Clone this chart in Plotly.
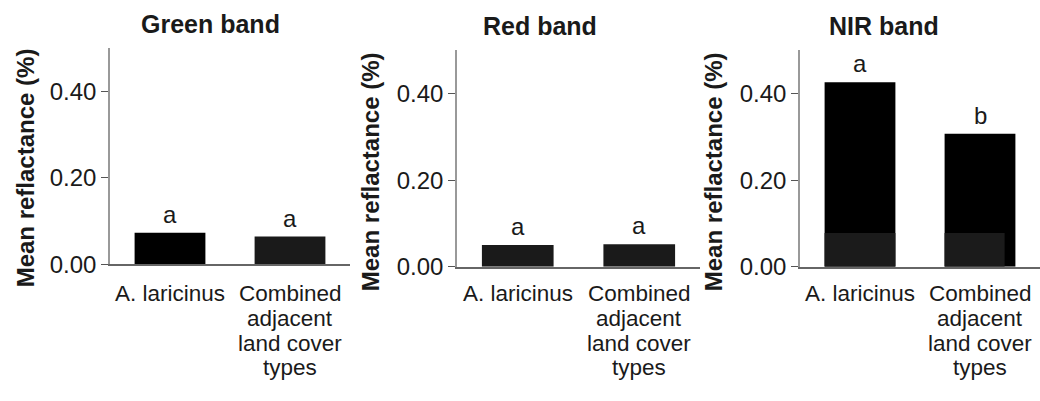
import plotly.graph_objects as go

# ---- data ----
categories = ["A. laricinus", "Combined adjacent land cover types"]
category_lines = [["A. laricinus"], ["Combined", "adjacent", "land cover", "types"]]
panel_titles = ["Green band", "Red band", "NIR band"]
green_values = [0.073, 0.064]
red_values = [0.050, 0.052]
nir_values = [0.426, 0.307]
nir_base_values = [0.078, 0.078]
green_letters = ["a", "a"]
red_letters = ["a", "a"]
nir_letters = ["a", "b"]
y_tickvals = [0.0, 0.2, 0.4]
y_ticktext = ["0.00", "0.20", "0.40"]
y_title = "Mean reflactance (%)"

W, H = 1040, 401
FONT = "Liberation Sans, Arial, sans-serif"
TXT = "#1a1a1a"

# panel geometry (pixels): x0, x1, ytop, ybottom
panels = [
    (110, 350, 50, 273),
    (457, 700, 52, 275.7),
    (800, 1040, 52, 275.7),
]
title_pos = [(210, 25), (540, 27), (884, 27)]
ytitle_pos = [(25, 174), (370, 178), (713, 178)]
label_line_y = [303.5, 328.8, 354.6, 379.9]

series = [green_values, red_values, nir_values]
letters = [green_letters, red_letters, nir_letters]
bar_colors = [["#000000", "#1a1a1a"], ["#1a1a1a", "#1a1a1a"], ["#000000", "#000000"]]

fig = go.Figure()
layout = dict(
    width=W, height=H,
    margin=dict(l=0, r=0, t=0, b=0),
    paper_bgcolor="white", plot_bgcolor="white",
    showlegend=False, barmode="overlay",
    font=dict(family=FONT, size=24, color=TXT),
)
annotations = []

for i, (x0, x1, yt, yb) in enumerate(panels):
    sfx = "" if i == 0 else str(i + 1)
    xa, ya = "x" + sfx, "y" + sfx
    fig.add_trace(go.Bar(
        x=categories, y=series[i], xaxis=xa, yaxis=ya,
        width=0.59, marker=dict(color=bar_colors[i], line=dict(width=0)),
        hoverinfo="skip",
    ))
    if i == 2:
        fig.add_trace(go.Bar(
            x=categories, y=nir_base_values, xaxis=xa, yaxis=ya,
            width=[0.59, 0.50], offset=[-0.295, -0.295],
            marker=dict(color="#1b1b1b", line=dict(width=0)),
            hoverinfo="skip",
        ))
    layout["xaxis" + sfx] = dict(
        domain=[x0 / W, x1 / W], anchor=ya, type="category",
        range=[-0.5, 1.5], showline=True, linecolor="#666666", linewidth=2,
        ticks="", showticklabels=False, showgrid=False, zeroline=False,
        fixedrange=True,
    )
    layout["yaxis" + sfx] = dict(
        domain=[1 - yb / H, 1 - yt / H], anchor=xa,
        range=[0, 0.5], tickvals=y_tickvals, ticktext=y_ticktext,
        ticks="outside", ticklen=7, tickcolor="#555555", tickwidth=1,
        showline=True, linecolor="#999999", linewidth=1.5,
        showgrid=False, zeroline=False,
        tickfont=dict(family=FONT, size=24, color=TXT),
        fixedrange=True,
    )
    # panel title
    tx, ty = title_pos[i]
    annotations.append(dict(
        x=tx / W, y=1 - ty / H, xref="paper", yref="paper",
        text="<b>%s</b>" % panel_titles[i], showarrow=False,
        xanchor="center", yanchor="middle",
        font=dict(family=FONT, size=25, color=TXT),
    ))
    # y title
    yx, yy = ytitle_pos[i]
    annotations.append(dict(
        x=yx / W, y=1 - yy / H, xref="paper", yref="paper",
        text="<b>%s</b>" % y_title, showarrow=False, textangle=-90,
        xanchor="center", yanchor="middle",
        font=dict(family=FONT, size=24, color=TXT),
    ))
    # significance letters
    for cat, v, lt in zip(categories, series[i], letters[i]):
        annotations.append(dict(
            x=cat, y=v, xref=xa, yref=ya, text=lt, showarrow=False,
            xanchor="center", yanchor="bottom", yshift=4, borderpad=0,
            font=dict(family=FONT, size=24, color=TXT),
        ))
    # category labels
    for cat, lines in zip(categories, category_lines):
        for k, line in enumerate(lines):
            annotations.append(dict(
                x=cat, y=1 - label_line_y[k] / H, xref=xa, yref="paper",
                text=line, showarrow=False, xanchor="center", yanchor="middle",
                borderpad=0,
                font=dict(family=FONT, size=22.5, color=TXT),
            ))

layout["annotations"] = annotations
fig.update_layout(**layout)
fig.write_html("out.html")
